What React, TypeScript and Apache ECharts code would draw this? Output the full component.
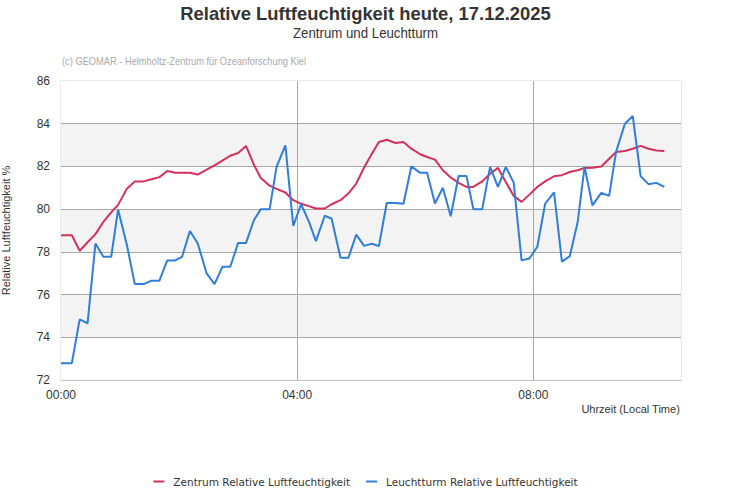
import React, { useEffect, useRef } from "react";
import * as echarts from "echarts";

const minutes: number[] = [
  0, 11, 19, 27, 35, 43, 51, 58, 67, 75,
  84, 92, 100, 108, 116, 123, 131, 139, 148, 156,
  164, 172, 180, 188, 196, 203, 212, 219, 228, 236,
  244, 252, 259, 268, 275, 284, 292, 300, 308, 316,
  323, 331, 340, 348, 356, 365, 372, 380, 388, 396,
  404, 412, 419, 428, 436, 444, 452, 460, 468, 476,
  484, 492, 501, 509, 517, 525, 532, 540, 549, 557,
  564, 573, 581, 589, 597, 605, 613,
];

const zentrum: number[] = [
  78.78, 78.78, 78.05, 78.45, 78.83, 79.4, 79.85, 80.2, 80.96, 81.3,
  81.3, 81.4, 81.5, 81.79, 81.7, 81.7, 81.7, 81.62, 81.85, 82.05,
  82.27, 82.5, 82.63, 82.96, 82.08, 81.46, 81.1, 80.95, 80.78, 80.42,
  80.25, 80.14, 80.03, 80.03, 80.23, 80.42, 80.73, 81.2, 81.95, 82.6,
  83.14, 83.25, 83.1, 83.14, 82.83, 82.57, 82.44, 82.32, 81.82, 81.48,
  81.23, 81.04, 81.04, 81.3, 81.66, 81.93, 81.27, 80.62, 80.34, 80.68,
  81.04, 81.3, 81.54, 81.59, 81.74, 81.82, 81.93, 81.94, 82.0, 82.36,
  82.68, 82.72, 82.83, 82.96, 82.83, 82.75, 82.72,
];

const leuchtturm: number[] = [
  72.79, 72.79, 74.84, 74.65, 78.39, 77.77, 77.77, 79.98, 78.31, 76.49,
  76.49, 76.65, 76.65, 77.6, 77.6, 77.77, 78.98, 78.39, 76.99, 76.49,
  77.3, 77.3, 78.42, 78.42, 79.48, 80.0, 80.0, 81.98, 82.99, 79.22,
  80.23, 79.4, 78.5, 79.69, 79.55, 77.72, 77.72, 78.81, 78.28, 78.38,
  78.27, 80.29, 80.29, 80.25, 82.0, 81.7, 81.7, 80.26, 81.0, 79.67,
  81.55, 81.55, 80.0, 80.0, 81.98, 81.04, 81.98, 81.24, 77.6, 77.69,
  78.24, 80.26, 80.78, 77.54, 77.8, 79.4, 81.98, 80.18, 80.76, 80.62,
  82.68, 84.0, 84.36, 81.54, 81.17, 81.23, 81.04,
];

const seriesNames: string[] = [
  "Zentrum Relative Luftfeuchtigkeit",
  "Leuchtturm Relative Luftfeuchtigkeit",
];

const titleText = "Relative Luftfeuchtigkeit heute, 17.12.2025";
const subtitleText = "Zentrum und Leuchtturm";
const creditText = "(c) GEOMAR - Helmholtz-Zentrum für Ozeanforschung Kiel";
const yAxisName = "Relative Luftfeuchtigkeit %";
const xAxisName = "Uhrzeit (Local Time)";

const SANS = "'Liberation Sans', Arial, sans-serif";

function fmtTime(v: number): string {
  const h = Math.floor(v / 60);
  const m = Math.round(v % 60);
  return String(h).padStart(2, "0") + ":" + String(m).padStart(2, "0");
}

export default function App() {
  const ref = useRef<HTMLDivElement>(null);
  useEffect(() => {
    if (!ref.current) return;
    const chart = echarts.init(ref.current, undefined, { renderer: "svg" });
    chart.setOption({
      animation: false,
      backgroundColor: "#ffffff",
      legend: {
        bottom: 8,
        left: "center",
        icon: "rect",
        itemWidth: 11,
        itemHeight: 2,
        itemGap: 16,
        textStyle: { fontFamily: "'DejaVu Sans', sans-serif", fontSize: 10.5, color: "#333333", padding: [0, 0, 0, 4] },
        data: seriesNames,
      },
      graphic: [
        {
          type: "text",
          x: 365.5,
          y: 13,
          scaleX: 0.97,
          style: {
            text: titleText,
            font: "bold 19px " + SANS,
            fill: "#333333",
            textAlign: "center",
            textVerticalAlign: "middle",
          },
        },
        {
          type: "text",
          x: 365.5,
          y: 33,
          scaleX: 0.947,
          style: {
            text: subtitleText,
            font: "14px " + SANS,
            fill: "#333333",
            textAlign: "center",
            textVerticalAlign: "middle",
          },
        },
        {
          type: "text",
          x: 62,
          y: 61,
          scaleX: 0.93,
          style: {
            text: creditText,
            font: "10px " + SANS,
            fill: "#aaaaaa",
            textAlign: "left",
            textVerticalAlign: "middle",
          },
        },
        {
          type: "text",
          right: 51,
          top: 403,
          style: { text: xAxisName, font: "11px " + SANS, fill: "#333333" },
        },
      ],
      grid: {
        left: 61,
        right: 50,
        top: 81,
        bottom: 120,
        outerBoundsMode: "none",
        containLabel: false,
        show: true,
        borderColor: "#d0d0d0",
        borderWidth: 1,
        backgroundColor: "transparent",
      },
      xAxis: {
        type: "value",
        min: 0,
        max: 630,
        interval: 240,
        axisLine: { show: true, lineStyle: { color: "#c0c0c0" } },
        axisTick: { show: false },
        axisLabel: {
          formatter: (v: number) => fmtTime(v),
          fontFamily: SANS,
          fontSize: 12,
          color: "#333333",
          margin: 9,
          showMaxLabel: false,
        },
        splitLine: {
          show: true,
          showMinLine: false,
          showMaxLine: false,
          lineStyle: { color: "#a8a8a8", width: 1 },
        },
      },
      yAxis: {
        type: "value",
        min: 72,
        max: 86,
        interval: 2,
        name: yAxisName,
        nameLocation: "middle",
        nameRotate: 90,
        nameGap: 50,
        nameTextStyle: { fontFamily: SANS, fontSize: 11, color: "#333333" },
        axisLine: { show: false },
        axisTick: { show: false },
        axisLabel: { fontFamily: SANS, fontSize: 12, color: "#333333", margin: 11 },
        splitLine: {
          show: true,
          showMinLine: false,
          showMaxLine: false,
          lineStyle: { color: "#a8a8a8", width: 1 },
        },
        splitArea: { show: true, areaStyle: { color: ["#ffffff", "#f3f3f3"] } },
      },
      series: [
        {
          name: seriesNames[0],
          type: "line",
          showSymbol: false,
          symbol: "none",
          color: "#d4305a",
          lineStyle: { width: 2, color: "#d4305a" },
          data: minutes.map((t, i) => [t, zentrum[i]]),
        },
        {
          name: seriesNames[1],
          type: "line",
          showSymbol: false,
          symbol: "none",
          color: "#2f7ed8",
          lineStyle: { width: 2, color: "#2f7ed8" },
          data: minutes.map((t, i) => [t, leuchtturm[i]]),
        },
      ],
    });
    return () => chart.dispose();
  }, []);
  return <div ref={ref} style={{ width: 731, height: 500, position: "absolute", left: 0, top: 0 }} />;
}
